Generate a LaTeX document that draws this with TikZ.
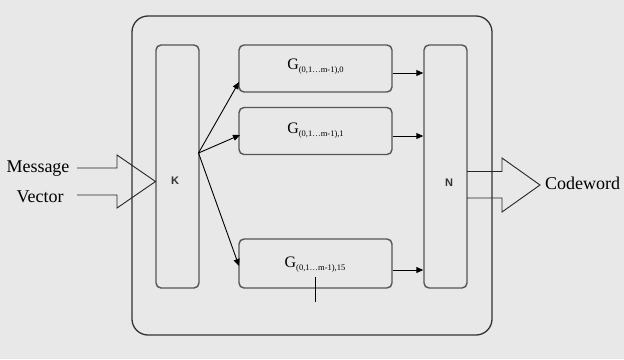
\documentclass[tikz,border=0pt]{standalone}
\usepackage{fontspec}
\setmainfont{Liberation Serif}
\newfontfamily\labsans{Liberation Sans}
\usetikzlibrary{arrows.meta,calc}
\definecolor{bgc}{HTML}{E8E8E8}
\definecolor{boxc}{HTML}{555555}
\tikzset{
  box/.style={draw=boxc, line width=1.4pt, rounded corners=5pt, inner sep=0pt},
  outerbox/.style={draw=black!80, line width=1.3pt, rounded corners=16pt, inner sep=0pt},
  conn/.style={draw=black, line width=0.9pt, -{Triangle[length=7pt,width=6pt]}},
  blockarrow/.style={draw=black!85, line width=0.9pt, line join=miter},
  bigtext/.style={font=\fontsize{18}{20}\selectfont, inner sep=0pt, align=center},
  kn/.style={font=\labsans\bfseries\fontsize{11}{11}\selectfont, text=black!80, inner sep=0pt},
}
\newcommand{\Glab}[1]{{\fontsize{16}{16}\selectfont G}\raisebox{-3pt}{\fontsize{8.5}{8.5}\selectfont (0,1…m-1),#1}}
\begin{document}
\begin{tikzpicture}[x=1pt,y=-1pt]
\useasboundingbox (0,0) rectangle (624,359);
\fill[bgc] (0,0) rectangle (624,359);
% containers
\node[outerbox, minimum width=360pt, minimum height=319pt] (outer) at (312,175.5) {};
\node[box, minimum width=43pt, minimum height=243pt] (K) at (177.5,166.5) {};
\node[box, minimum width=43pt, minimum height=243pt] (N) at (445.5,166.5) {};
\node[kn] (Klab) at (175,181) {K};
\node[kn] (Nlab) at (449,183) {N};
% G boxes
\node[box, minimum width=153pt, minimum height=47pt] (G1) at (315.5,68.5) {};
\node[box, minimum width=153pt, minimum height=47pt] (G2) at (315.5,131) {};
\node[box, minimum width=153pt, minimum height=49pt] (G3) at (315.5,263.5) {};
\node[inner sep=0pt] (G1lab) at (315.5,67) {\Glab{0}};
\node[inner sep=0pt] (G2lab) at (315.5,131) {\Glab{1}};
\node[inner sep=0pt] (G3lab) at (315,265) {\Glab{15}};
% fan from K
\coordinate (fan) at (198.5,153);
\coordinate (t1) at (239,82);
\coordinate (t2) at (240,135);
\coordinate (t3) at (239,266);
\draw[conn] (fan) -- (t1);
\draw[conn] (fan) -- (t2);
\draw[conn] (fan) -- (t3);
% G to N
\draw[conn] ([yshift=-4.5pt]G1.east) -- ([yshift=-4.5pt]G1.east -| N.west);
\draw[conn] ([yshift=-5pt]G2.east) -- ([yshift=-5pt]G2.east -| N.west);
\draw[conn] ([yshift=-6.5pt]G3.east) -- ([yshift=-6.5pt]G3.east -| N.west);
% tick below G3
\coordinate (tk1) at (315,277);
\coordinate (tk2) at (315,302);
\draw[black, line width=1pt] (tk1) -- (tk2);
% message arrow
\coordinate (mtip) at (155.5,181.5);
\draw[blockarrow] (77,168) -- (117,168) -- (117,155) -- (mtip) -- (117,208) -- (117,195) -- (77,195);
\node[bigtext] (msg1) at (38,169) {Message};
\node[bigtext] (msg2) at (40,197) {Vector};
% codeword arrow
\coordinate (ctip) at (540,185);
\draw[blockarrow] (467,171.5) -- (502,171.5) -- (502,158) -- (ctip) -- (502,212) -- (502,198) -- (467,198);
\node[bigtext, anchor=west] (cw) at (545,183) {Codeword};
\end{tikzpicture}
\end{document}
